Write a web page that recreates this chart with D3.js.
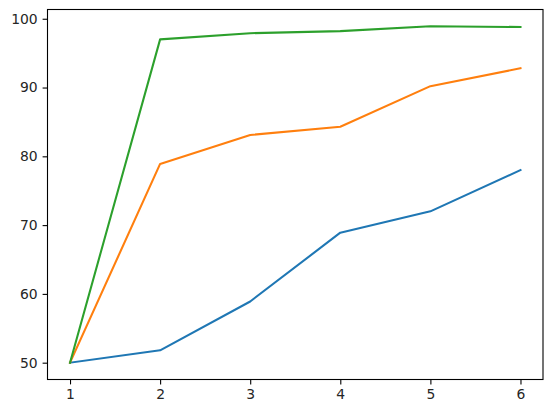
<!DOCTYPE html>
<html>
<head>
<meta charset="utf-8">
<script src="https://cdn.jsdelivr.net/npm/d3@7"></script>
<style>
  body { margin: 0; background: #fff; }
  text { font-family: "DejaVu Sans", sans-serif; }
</style>
</head>
<body>
<div id="chart"></div>
<script>
const xValues = [1, 2, 3, 4, 5, 6];
const blueSeries = [50, 51.8, 58.9, 68.9, 72.0, 78.0];
const orangeSeries = [50, 78.9, 83.1, 84.3, 90.2, 92.8];
const greenSeries = [50, 97.0, 97.9, 98.2, 98.9, 98.8];
const xTicks = [1, 2, 3, 4, 5, 6];
const yTicks = [50, 60, 70, 80, 90, 100];

const width = 552;
const height = 413;
const margin = { top: 9.5, right: 9, bottom: 33.5, left: 47.5 };

const series = [
    { values: blueSeries, color: '#1f77b4' },
    { values: orangeSeries, color: '#ff7f0e' },
    { values: greenSeries, color: '#2ca02c' }
];

const svg = d3.select('#chart')
    .append('svg')
    .attr('width', width)
    .attr('height', height);

// matplotlib style 5% padding on both axes
const xMin = d3.min(xValues), xMax = d3.max(xValues);
const xPad = (xMax - xMin) * 0.05;
const x = d3.scaleLinear()
    .domain([xMin - xPad, xMax + xPad])
    .range([margin.left, width - margin.right]);

const allY = series.flatMap(s => s.values);
const yMin = d3.min(allY), yMax = d3.max(allY);
const yPad = (yMax - yMin) * 0.05;
const y = d3.scaleLinear()
    .domain([yMin - yPad, yMax + yPad])
    .range([height - margin.bottom, margin.top]);

const line = d3.line()
    .x((d, i) => x(xValues[i]))
    .y(d => y(d));

series.forEach(s => {
    svg.append('path')
        .datum(s.values)
        .attr('d', line)
        .attr('fill', 'none')
        .attr('stroke', s.color)
        .attr('stroke-width', 2.08)
        .attr('stroke-linejoin', 'round')
        .attr('stroke-linecap', 'square');
});

// axes
const xAxis = svg.append('g')
    .attr('transform', `translate(0,${height - margin.bottom})`)
    .call(d3.axisBottom(x).tickValues(xTicks).tickFormat(d3.format('d'))
        .tickSizeOuter(0).tickSizeInner(4.9).tickPadding(4.9));

const yAxis = svg.append('g')
    .attr('transform', `translate(${margin.left},0)`)
    .call(d3.axisLeft(y).tickValues(yTicks).tickFormat(d3.format('d'))
        .tickSizeOuter(0).tickSizeInner(4.9).tickPadding(4.9));

[xAxis, yAxis].forEach(g => {
    g.select('.domain').remove();
    g.selectAll('.tick line').attr('stroke', '#000').attr('stroke-width', 1.1);
    g.selectAll('.tick text')
        .attr('fill', '#262626')
        .style('font-size', '13.9px')
        .style('font-family', '"DejaVu Sans", sans-serif');
});

// frame
svg.append('rect')
    .attr('x', margin.left)
    .attr('y', margin.top)
    .attr('width', width - margin.left - margin.right)
    .attr('height', height - margin.top - margin.bottom)
    .attr('fill', 'none')
    .attr('stroke', '#000')
    .attr('stroke-width', 1.1);
</script>
</body>
</html>
